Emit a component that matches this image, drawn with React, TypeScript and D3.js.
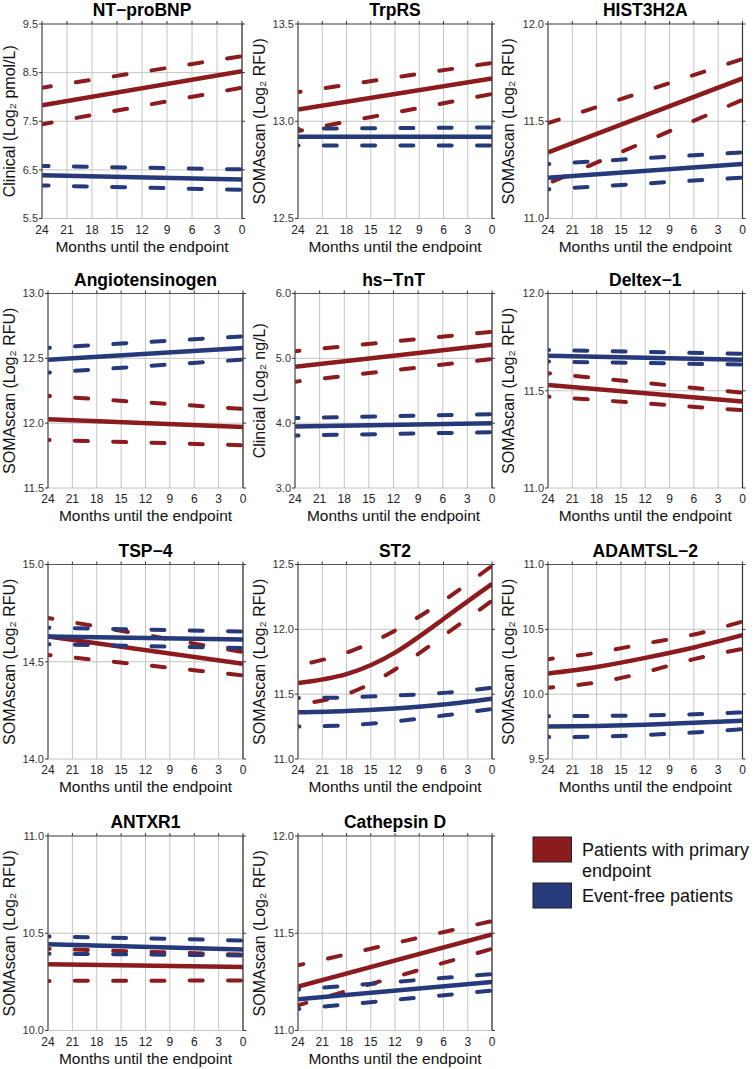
import * as d3 from "d3";

// ── data ────────────────────────────────────────────────────────────────
const MONTHS_LINE = [24, 0];
const MONTHS_CURVE = [24, 18, 12, 6, 0];
const X_TICKS = [24, 21, 18, 15, 12, 9, 6, 3, 0];

const TITLES = [
  "NT−proBNP", "TrpRS", "HIST3H2A",
  "Angiotensinogen", "hs−TnT", "Deltex−1",
  "TSP−4", "ST2", "ADAMTSL−2",
  "ANTXR1", "Cathepsin D",
];

const Y_TITLES = [
  "Clinical (Log₂ pmol/L)", "SOMAscan (Log₂ RFU)", "SOMAscan (Log₂ RFU)",
  "SOMAscan (Log₂ RFU)", "Clincial (Log₂ ng/L)", "SOMAscan (Log₂ RFU)",
  "SOMAscan (Log₂ RFU)", "SOMAscan (Log₂ RFU)", "SOMAscan (Log₂ RFU)",
  "SOMAscan (Log₂ RFU)", "SOMAscan (Log₂ RFU)",
];

const Y_TICKS = [
  [5.5, 6.5, 7.5, 8.5, 9.5], [12.5, 13.0, 13.5], [11.0, 11.5, 12.0],
  [11.5, 12.0, 12.5, 13.0], [3.0, 4.0, 5.0, 6.0], [11.0, 11.5, 12.0],
  [14.0, 14.5, 15.0], [11.0, 11.5, 12.0, 12.5], [9.5, 10.0, 10.5, 11.0],
  [10.0, 10.5, 11.0], [11.0, 11.5, 12.0],
];

type Band = { mean: number[]; lo: number[]; hi: number[] };

// red = patients with primary endpoint, blue = event-free patients
const NTPROBNP_RED: Band = { mean: [7.83, 8.53], lo: [7.44, 8.19], hi: [8.19, 8.84] };
const NTPROBNP_BLUE: Band = { mean: [6.39, 6.30], lo: [6.18, 6.09], hi: [6.58, 6.51] };
const TRPRS_RED: Band = { mean: [13.06, 13.22], lo: [12.95, 13.14], hi: [13.15, 13.30] };
const TRPRS_BLUE: Band = { mean: [12.92, 12.92], lo: [12.875, 12.875], hi: [12.962, 12.968] };
const HIST_RED: Band = { mean: [11.34, 11.72], lo: [11.18, 11.61], hi: [11.49, 11.82] };
const HIST_BLUE: Band = { mean: [11.21, 11.28], lo: [11.15, 11.21], hi: [11.28, 11.34] };
const AGT_RED: Band = { mean: [12.03, 11.97], lo: [11.87, 11.83], hi: [12.21, 12.11] };
const AGT_BLUE: Band = { mean: [12.49, 12.58], lo: [12.39, 12.49], hi: [12.58, 12.67] };
const TNT_RED: Band = { mean: [4.87, 5.21], lo: [4.64, 4.99], hi: [5.11, 5.41] };
const TNT_BLUE: Band = { mean: [3.95, 4.0], lo: [3.81, 3.86], hi: [4.08, 4.14] };
const DELTEX_RED: Band = { mean: [11.53, 11.445], lo: [11.47, 11.40], hi: [11.59, 11.49] };
const DELTEX_BLUE: Band = { mean: [11.68, 11.66], lo: [11.65, 11.635], hi: [11.71, 11.69] };
const TSP4_RED: Band = { mean: [14.63, 14.49], lo: [14.535, 14.43], hi: [14.725, 14.55] };
const TSP4_BLUE: Band = { mean: [14.63, 14.615], lo: [14.59, 14.57], hi: [14.675, 14.655] };
const ST2_RED: Band = {
  mean: [11.585, 11.655, 11.82, 12.08, 12.35],
  lo: [11.42, 11.5, 11.69, 11.95, 12.22],
  hi: [11.72, 11.82, 11.99, 12.22, 12.49],
};
const ST2_BLUE: Band = {
  mean: [11.36, 11.37, 11.39, 11.42, 11.465],
  lo: [11.25, 11.26, 11.29, 11.335, 11.385],
  hi: [11.47, 11.475, 11.49, 11.51, 11.55],
};
const ADAMTSL_RED: Band = {
  mean: [10.16, 10.21, 10.28, 10.36, 10.455],
  lo: [10.05, 10.09, 10.17, 10.27, 10.35],
  hi: [10.27, 10.32, 10.39, 10.46, 10.56],
};
const ADAMTSL_BLUE: Band = {
  mean: [9.75, 9.755, 9.765, 9.78, 9.795],
  lo: [9.67, 9.672, 9.685, 9.705, 9.73],
  hi: [9.83, 9.832, 9.836, 9.845, 9.86],
};
const ANTXR1_RED: Band = { mean: [10.34, 10.326], lo: [10.255, 10.257], hi: [10.42, 10.39] };
const ANTXR1_BLUE: Band = { mean: [10.443, 10.417], lo: [10.395, 10.386], hi: [10.484, 10.463] };
const CTSD_RED: Band = { mean: [11.226, 11.494], lo: [11.13, 11.42], hi: [11.335, 11.563] };
const CTSD_BLUE: Band = { mean: [11.16, 11.25], lo: [11.11, 11.205], hi: [11.21, 11.29] };

const PRIMARY = [NTPROBNP_RED, TRPRS_RED, HIST_RED, AGT_RED, TNT_RED, DELTEX_RED,
  TSP4_RED, ST2_RED, ADAMTSL_RED, ANTXR1_RED, CTSD_RED];
const EVENT_FREE = [NTPROBNP_BLUE, TRPRS_BLUE, HIST_BLUE, AGT_BLUE, TNT_BLUE, DELTEX_BLUE,
  TSP4_BLUE, ST2_BLUE, ADAMTSL_BLUE, ANTXR1_BLUE, CTSD_BLUE];
const MONTHS = [MONTHS_LINE, MONTHS_LINE, MONTHS_LINE, MONTHS_LINE, MONTHS_LINE, MONTHS_LINE,
  MONTHS_LINE, MONTHS_CURVE, MONTHS_CURVE, MONTHS_LINE, MONTHS_LINE];

const LEGEND = ["Patients with primary|endpoint", "Event-free patients"];

// ── layout ──────────────────────────────────────────────────────────────
const W = 754;
const H = 1069;
const ROW_TOP = [24, 293.5, 564.5, 836];
const PLOT_H = 194.5;
const COL_BASE = [0, 250, 499];
const COL_LEFT = [48, 298, 548];
const COL_RIGHT = [243, 492, 742.5];
const EDGE_OVERRIDE: Record<number, [number, number]> = { 0: [42, 242], 4: [295, 492] };

const RED = "#8c1b1d";
const BLUE = "#263a7b";
const FONT = "'Liberation Sans', Arial, Helvetica, sans-serif";

function Panel({ i }: { i: number }) {
  const row = Math.floor(i / 3);
  const col = i % 3;
  const [left, right] = EDGE_OVERRIDE[i] ?? [COL_LEFT[col], COL_RIGHT[col]];
  const top = ROW_TOP[row];
  const bottom = top + PLOT_H;
  const ticks = Y_TICKS[i];
  const x = d3.scaleLinear().domain([24, 0]).range([left, right]);
  const y = d3.scaleLinear().domain(d3.extent(ticks) as [number, number]).range([bottom, top]);
  const months = MONTHS[i];
  const line = d3.line<[number, number]>()
    .x((d) => x(d[0]))
    .y((d) => y(d[1]))
    .curve(d3.curveNatural);
  // drawn from month 0 back to month 24 so the dash pattern starts at the right edge
  const path = (vals: number[]) =>
    line(months.map((m, k) => [m, vals[k]] as [number, number]).reverse()) ?? "";
  const fmt = d3.format(".1f");
  const clipId = `clip-${i}`;

  const series = (band: Band, color: string) => (
    <g>
      {[band.lo, band.hi].map((v, k) => (
        <path key={k} d={path(v)} fill="none" stroke={color} strokeWidth={4}
          strokeLinecap="round" strokeDasharray="13 25.3" strokeDashoffset={-2} />
      ))}
      <path d={path(band.mean)} fill="none" stroke={color} strokeWidth={4.5} />
    </g>
  );

  return (
    <g>
      <defs>
        <clipPath id={clipId}>
          <rect x={left} y={top} width={right - left} height={bottom - top} />
        </clipPath>
      </defs>
      {/* grid */}
      {X_TICKS.map((m) => (
        <line key={`gx${m}`} x1={x(m)} x2={x(m)} y1={top} y2={bottom} stroke="#c4c4c4" strokeWidth={1} />
      ))}
      {ticks.map((t) => (
        <line key={`gy${t}`} x1={left} x2={right} y1={y(t)} y2={y(t)} stroke="#c4c4c4" strokeWidth={1} />
      ))}
      {/* lines */}
      <g clipPath={`url(#${clipId})`}>
        {series(PRIMARY[i], RED)}
        {series(EVENT_FREE[i], BLUE)}
      </g>
      {/* frame: top, left and right with outward ticks */}
      <line x1={left} x2={right} y1={top} y2={top} stroke="#555" strokeWidth={1.2} />
      <line x1={left} x2={left} y1={top} y2={bottom} stroke="#555" strokeWidth={1.2} />
      <line x1={right} x2={right} y1={top} y2={bottom} stroke="#333" strokeWidth={1.2} />
      {X_TICKS.map((m) => (
        <line key={`tt${m}`} x1={x(m)} x2={x(m)} y1={top} y2={top - 3} stroke="#333" strokeWidth={1} />
      ))}
      {ticks.map((t) => (
        <g key={`ty${t}`}>
          <line x1={left} x2={left - 3} y1={y(t)} y2={y(t)} stroke="#333" strokeWidth={1} />
          <line x1={right} x2={right + 3} y1={y(t)} y2={y(t)} stroke="#333" strokeWidth={1} />
          <text x={left - 4} y={y(t)} dy="0.35em" textAnchor="end" fontSize={11} fill="#333">
            {fmt(t)}
          </text>
        </g>
      ))}
      {X_TICKS.map((m) => (
        <text key={`xl${m}`} x={x(m)} y={bottom + 15} textAnchor="middle" fontSize={12} fill="#222">
          {m}
        </text>
      ))}
      <text x={(left + right) / 2} y={bottom + 33} textAnchor="middle" fontSize={15.5} fill="#111">
        Months until the endpoint
      </text>
      <text transform={`translate(${COL_BASE[col] + 15},${(top + bottom) / 2}) rotate(-90)`}
        textAnchor="middle" fontSize={16} fill="#111">
        {Y_TITLES[i]}
      </text>
      <text x={(left + right) / 2} y={top - 8} textAnchor="middle" fontSize={17.5} fontWeight="bold" fill="#000">
        {TITLES[i]}
      </text>
    </g>
  );
}

function Legend() {
  const colors = [RED, BLUE];
  const boxTop = [837, 883];
  return (
    <g>
      {LEGEND.map((label, k) => (
        <g key={k}>
          <rect x={533} y={boxTop[k]} width={38.5} height={25} fill={colors[k]} stroke="#222" strokeWidth={1} />
          <text x={582} y={boxTop[k] + 12.5} fontSize={18} fill="#111">
            {label.split("|").map((part, j) => (
              <tspan key={j} x={582} dy={j === 0 ? "0.35em" : 21.5}>{part}</tspan>
            ))}
          </text>
        </g>
      ))}
    </g>
  );
}

export default function App() {
  return (
    <>
      <style>{"body{margin:0}"}</style>
      <svg width={W} height={H} viewBox={`0 0 ${W} ${H}`} style={{ display: "block", background: "#fff" }}
        fontFamily={FONT}>
        {TITLES.map((_, i) => <Panel key={i} i={i} />)}
        <Legend />
      </svg>
    </>
  );
}
